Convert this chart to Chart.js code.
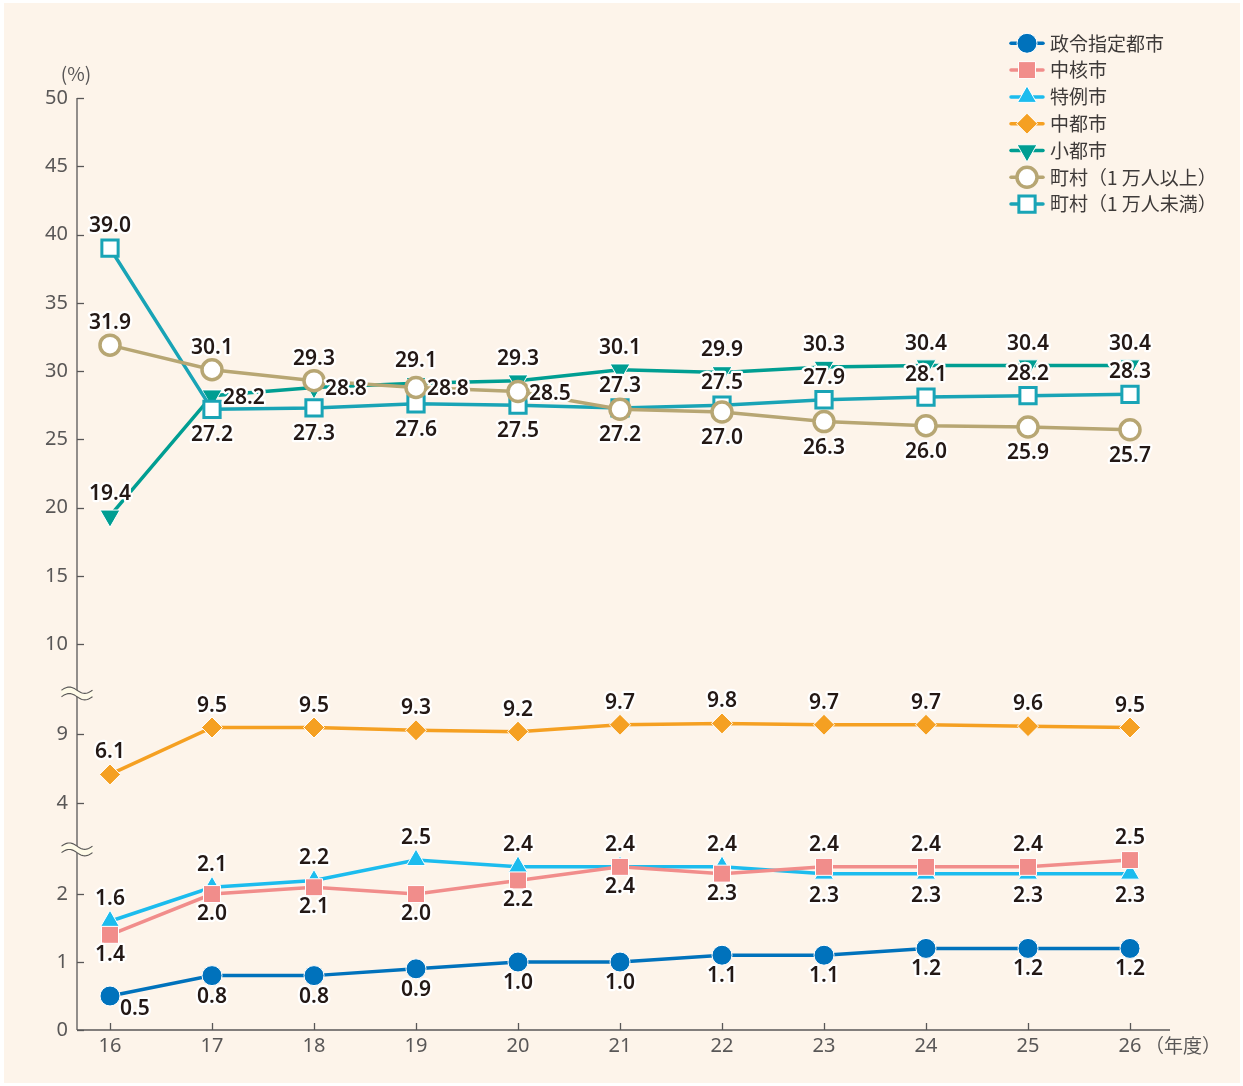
<!DOCTYPE html>
<html>
<head>
<meta charset="utf-8">
<script src="https://cdn.jsdelivr.net/npm/chart.js@4/dist/chart.umd.min.js"></script>
<style>
  html, body { margin: 0; padding: 0; background: #ffffff; }
  #wrap { width: 1243px; height: 1086px; position: relative; }
  canvas { display: block; }
</style>
</head>
<body>
<div id="wrap"><canvas id="chart" width="1243" height="1086"></canvas></div>
<script>
// ---------------- data ----------------
const categories = ['16', '17', '18', '19', '20', '21', '22', '23', '24', '25', '26'];
const seriesNames = ['政令指定都市', '中核市', '特例市', '中都市', '小都市', '町村（1 万人以上）', '町村（1 万人未満）'];
const seireiShitei = [0.5, 0.8, 0.8, 0.9, 1.0, 1.0, 1.1, 1.1, 1.2, 1.2, 1.2];
const chukakushi   = [1.4, 2.0, 2.1, 2.0, 2.2, 2.4, 2.3, 2.4, 2.4, 2.4, 2.5];
const tokureishi   = [1.6, 2.1, 2.2, 2.5, 2.4, 2.4, 2.4, 2.3, 2.3, 2.3, 2.3];
const chutoshi     = [6.1, 9.5, 9.5, 9.3, 9.2, 9.7, 9.8, 9.7, 9.7, 9.6, 9.5];
const shotoshi     = [19.4, 28.2, 28.8, 29.1, 29.3, 30.1, 29.9, 30.3, 30.4, 30.4, 30.4];
const chosonOver   = [31.9, 30.1, 29.3, 28.8, 28.5, 27.2, 27.0, 26.3, 26.0, 25.9, 25.7];
const chosonUnder  = [39.0, 27.2, 27.3, 27.6, 27.5, 27.3, 27.5, 27.9, 28.1, 28.2, 28.3];
const yTickValues  = [0, 1, 2, 4, 9, 10, 15, 20, 25, 30, 35, 40, 45, 50];
const yUnitLabel = '(%)';
const xUnitLabel = '（年度）';

// label placement per point: a = above, b = below, r = right, br = below-right
const labelPlacement = [
  ['br','b','b','b','b','b','b','b','b','b','b'],
  ['b','b','b','b','b','b','b','a','a','a','a'],
  ['a','a','a','a','a','a','a','b','b','b','b'],
  ['a','a','a','a','a','a','a','a','a','a','a'],
  ['a','r','r','a','a','a','a','a','a','a','a'],
  ['a','a','a','r','r','b','b','b','b','b','b'],
  ['a','b','b','b','b','a','a','a','a','a','a']
];
const belowGap = [21, 20, 22, 22, 26, 26, 26];

// ---------------- broken y scale ----------------
// three segments (0–3, 3–10, 10–50) each with its own unit length
function toVirtual(v) {
  if (v < 3) return v * 68;
  if (v < 10) return 226.7 + (v - 4) * 13.8;
  return 386 + (v - 10) * 13.66;
}
const breakVirtual = [180.7, 336.7];

class BrokenLinearScale extends Chart.LinearScale {
  determineDataLimits() {
    this.min = 0;
    this.max = toVirtual(yTickValues[yTickValues.length - 1]);
  }
  buildTicks() {
    return yTickValues.map(v => ({ value: v }));
  }
  getPixelForValue(value) {
    if (value === null || value === undefined || isNaN(value)) return NaN;
    return this.getPixelForDecimal((toVirtual(value) - this.min) / (this.max - this.min));
  }
  getPixelForVirtual(v) {
    return this.getPixelForDecimal((v - this.min) / (this.max - this.min));
  }
}
BrokenLinearScale.id = 'brokenLinear';
BrokenLinearScale.defaults = {};
Chart.register(BrokenLinearScale);

// ---------------- styles ----------------
const AXIS_COLOR = '#595757';
const TEXT_COLOR = '#231815';
const NUM_FAMILY = '"Noto Sans", "Noto Sans CJK JP", sans-serif';
const LABEL_FONT = '600 21px ' + NUM_FAMILY;
const LEGEND_FONT = '19px "Noto Sans CJK JP", sans-serif';

const styles = [
  { color: '#0072BC', pointStyle: 'circle',   radius: 10,  rotation: 0,   fill: '#0072BC', bw: 1,   bc: '#ffffff', order: 0 },
  { color: '#F18D8B', pointStyle: 'rect',     radius: 12,  rotation: 0,   fill: '#F18D8B', bw: 1,   bc: '#ffffff', order: 0 },
  { color: '#1CBCEE', pointStyle: 'triangle', radius: 11,  rotation: 0,   fill: '#1CBCEE', bw: 1,   bc: '#ffffff', order: 1 },
  { color: '#F5A022', pointStyle: 'rectRot',  radius: 10.5,rotation: 0,   fill: '#F5A022', bw: 1,   bc: '#ffffff', order: 0 },
  { color: '#009E92', pointStyle: 'triangle', radius: 11.5,rotation: 180, fill: '#009E92', bw: 1,   bc: '#ffffff', order: 2 },
  { color: '#B7A673', pointStyle: 'circle',   radius: 10,  rotation: 0,   fill: '#ffffff', bw: 3.5, bc: '#B7A673', order: 0 },
  { color: '#19A4B6', pointStyle: 'rect',     radius: 11.5,rotation: 0,   fill: '#ffffff', bw: 3,   bc: '#19A4B6', order: 1 }
];
const seriesValues = [seireiShitei, chukakushi, tokureishi, chutoshi, shotoshi, chosonOver, chosonUnder];

const datasets = seriesValues.map((vals, i) => ({
  label: seriesNames[i],
  data: vals.map((v, j) => ({ x: Number(categories[j]), y: v })),
  borderColor: styles[i].color,
  backgroundColor: styles[i].color,
  borderWidth: 3.5,
  tension: 0,
  pointStyle: styles[i].pointStyle,
  pointRadius: styles[i].radius,
  pointRotation: styles[i].rotation,
  pointBackgroundColor: styles[i].fill,
  pointBorderColor: styles[i].bc,
  pointBorderWidth: styles[i].bw,
  order: styles[i].order,
  clip: false
}));

// ---------------- plugins ----------------
const backgroundPlugin = {
  id: 'bg',
  beforeDraw(chart) {
    const ctx = chart.ctx;
    ctx.save();
    ctx.fillStyle = '#ffffff';
    ctx.fillRect(0, 0, chart.width, chart.height);
    ctx.fillStyle = '#FDF4EA';
    ctx.fillRect(4, 3, chart.width - 7, chart.height - 6);
    ctx.restore();
  }
};

function wavePath(ctx, x0, w, yBase, amp, n, move) {
  for (let k = 0; k <= n; k++) {
    const t = k / n;
    const yy = yBase - amp * Math.sin(2 * Math.PI * t);
    if (k === 0 && move) ctx.moveTo(x0 + t * w, yy); else ctx.lineTo(x0 + t * w, yy);
  }
}

function drawBreak(ctx, x, y) {
  const w = 31, amp = 3.2, gap = 6.5, n = 24;
  const x0 = x - w / 2;
  ctx.save();
  ctx.beginPath();
  wavePath(ctx, x0, w, y - gap / 2, amp, n, true);
  for (let k = n; k >= 0; k--) {
    const t = k / n;
    ctx.lineTo(x0 + t * w, y + gap / 2 - amp * Math.sin(2 * Math.PI * t));
  }
  ctx.closePath();
  ctx.fillStyle = '#FFFBE8';
  ctx.fill();
  ctx.strokeStyle = AXIS_COLOR;
  ctx.lineWidth = 1.1;
  ctx.beginPath();
  wavePath(ctx, x0, w, y - gap / 2, amp, n, true);
  ctx.stroke();
  ctx.beginPath();
  wavePath(ctx, x0, w, y + gap / 2, amp, n, true);
  ctx.stroke();
  ctx.restore();
}

const axesPlugin = {
  id: 'axesDraw',
  beforeDatasetsDraw(chart) {
    const { ctx, chartArea, scales } = chart;
    const xs = scales.x, ys = scales.y;
    ctx.save();
    ctx.strokeStyle = AXIS_COLOR;
    ctx.lineWidth = 1.3;
    ctx.beginPath();
    ctx.moveTo(chartArea.left, chartArea.top);
    ctx.lineTo(chartArea.left, chartArea.bottom);
    ctx.stroke();
    yTickValues.forEach(v => {
      const y = Math.round(ys.getPixelForValue(v)) + 0.5;
      ctx.beginPath();
      ctx.moveTo(chartArea.left, y);
      ctx.lineTo(chartArea.left + 7, y);
      ctx.stroke();
    });
    ctx.beginPath();
    ctx.moveTo(chartArea.left, chartArea.bottom);
    ctx.lineTo(chartArea.right, chartArea.bottom);
    ctx.stroke();
    categories.forEach(c => {
      const x = Math.round(xs.getPixelForValue(Number(c))) + 0.5;
      ctx.beginPath();
      ctx.moveTo(x, chartArea.bottom);
      ctx.lineTo(x, chartArea.bottom - 7);
      ctx.stroke();
    });
    breakVirtual.forEach(v => drawBreak(ctx, chartArea.left, ys.getPixelForVirtual(v)));
    ctx.fillStyle = AXIS_COLOR;
    ctx.font = '19px "Noto Sans CJK JP", sans-serif';
    ctx.textAlign = 'center';
    ctx.textBaseline = 'middle';
    ctx.fillText(yUnitLabel, 76, 74);
    ctx.textAlign = 'left';
    ctx.fillText(xUnitLabel, 1145, 1046);
    ctx.restore();
  }
};

const labelsPlugin = {
  id: 'valueLabels',
  afterDatasetsDraw(chart) {
    const ctx = chart.ctx;
    ctx.save();
    ctx.font = LABEL_FONT;
    ctx.lineJoin = 'round';
    ctx.miterLimit = 2;
    chart.data.datasets.forEach((ds, i) => {
      const meta = chart.getDatasetMeta(i);
      meta.data.forEach((pt, j) => {
        const txt = seriesValues[i][j].toFixed(1);
        const pos = labelPlacement[i][j];
        let x = pt.x, y = pt.y;
        ctx.textBaseline = 'middle';
        if (pos === 'a') { ctx.textAlign = 'center'; y -= 22; }
        else if (pos === 'b') { ctx.textAlign = 'center'; y += belowGap[i]; }
        else if (pos === 'r') { ctx.textAlign = 'left'; x += 11; y += 2; }
        else if (pos === 'br') { ctx.textAlign = 'left'; x += 10; y += 13; }
        ctx.strokeStyle = '#ffffff';
        ctx.lineWidth = 4.5;
        ctx.strokeText(txt, x, y);
        ctx.fillStyle = TEXT_COLOR;
        ctx.fillText(txt, x, y);
      });
    });
    ctx.restore();
  }
};

const legendPlugin = {
  id: 'customLegend',
  afterDraw(chart) {
    const ctx = chart.ctx;
    const cx = 1027, y0 = 43.3, dy = 26.8;
    ctx.save();
    styles.forEach((s, i) => {
      const y = y0 + i * dy;
      ctx.strokeStyle = s.color;
      ctx.lineWidth = 3.5;
      ctx.lineCap = 'round';
      ctx.beginPath();
      ctx.moveTo(1011, y);
      ctx.lineTo(1043, y);
      ctx.stroke();
      ctx.lineCap = 'butt';
      ctx.fillStyle = s.fill;
      ctx.strokeStyle = s.bc;
      ctx.lineWidth = s.bw;
      Chart.helpers.drawPoint(ctx, { pointStyle: s.pointStyle, rotation: s.rotation, radius: s.radius, borderWidth: s.bw }, cx, y);
      ctx.fillStyle = '#3E3A39';
      ctx.font = LEGEND_FONT;
      ctx.textAlign = 'left';
      ctx.textBaseline = 'middle';
      ctx.fillText(seriesNames[i], 1050, y);
    });
    ctx.restore();
  }
};

// ---------------- chart ----------------
new Chart(document.getElementById('chart'), {
  type: 'line',
  data: { datasets },
  plugins: [backgroundPlugin, axesPlugin, labelsPlugin, legendPlugin],
  options: {
    responsive: false,
    animation: false,
    devicePixelRatio: 1,
    layout: { padding: { left: 0, right: 73, top: 98, bottom: 0 } },
    plugins: { legend: { display: false }, tooltip: { enabled: false } },
    scales: {
      x: {
        type: 'linear',
        min: Number(categories[0]) - 33 / 102,
        max: Number(categories[categories.length - 1]) + 40 / 102,
        grid: { display: false, drawTicks: false },
        border: { display: false },
        afterBuildTicks: (s) => { s.ticks = categories.map(c => ({ value: Number(c) })); },
        afterFit: (s) => { s.height = 56; },
        ticks: {
          autoSkip: false, maxRotation: 0, padding: 4,
          color: AXIS_COLOR,
          font: { family: NUM_FAMILY, size: 20 },
          callback: (v) => String(v)
        }
      },
      y: {
        type: 'brokenLinear',
        grid: { display: false, drawTicks: false },
        border: { display: false },
        afterFit: (s) => { s.width = 77; },
        ticks: {
          autoSkip: false, padding: 9,
          color: AXIS_COLOR,
          font: { family: NUM_FAMILY, size: 20 },
          callback: (v) => String(v)
        }
      }
    }
  }
});
</script>
</body>
</html>
